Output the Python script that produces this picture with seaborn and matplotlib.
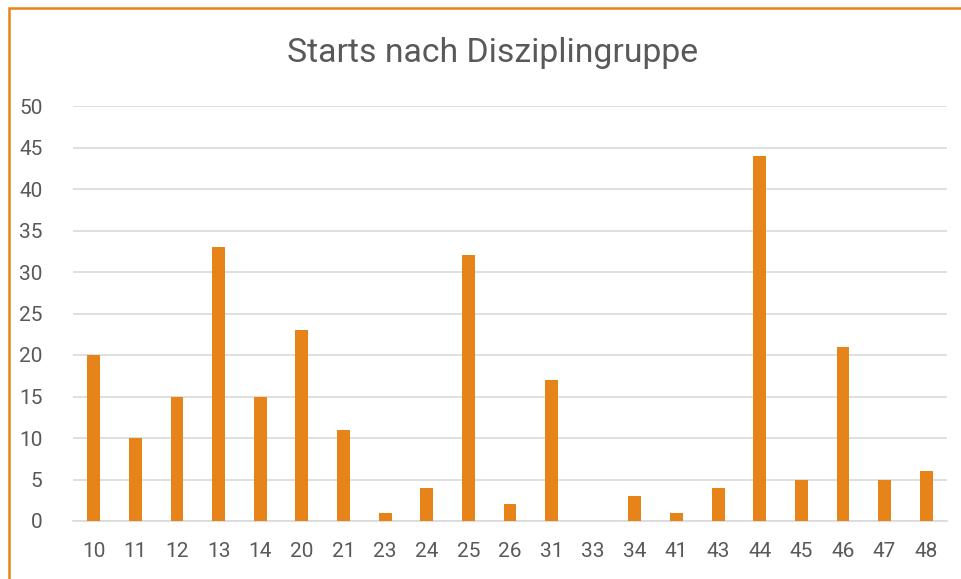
import pandas as pd
import matplotlib.pyplot as plt
import seaborn as sns
from matplotlib.patches import Rectangle

# data
gruppen = ["10", "11", "12", "13", "14", "20", "21", "23", "24", "25", "26",
           "31", "33", "34", "41", "43", "44", "45", "46", "47", "48"]
starts = [20, 10, 15, 33, 15, 23, 11, 1, 4, 32, 2,
          17, 0, 3, 1, 4, 44, 5, 21, 5, 6]
y_ticks = [0, 5, 10, 15, 20, 25, 30, 35, 40, 45, 50]

df = pd.DataFrame({"gruppe": gruppen, "starts": starts})

sns.set_theme(style="white")
plt.rcParams['font.family'] = ['Roboto', 'DejaVu Sans']

orange = "#E6841A"
grey_text = "#595959"

fig = plt.figure(figsize=(9.61, 5.79), dpi=100)
ax = fig.add_axes([73/961, 1 - 521/579, (947-73)/961, (521-106)/579])

sns.barplot(data=df, x="gruppe", y="starts", color=orange, width=0.31,
            saturation=1, linewidth=0, ax=ax, zorder=3)

ax.set_ylim(0, 50)
ax.set_yticks(y_ticks)
ax.set_xlim(-0.5, len(gruppen) - 0.5)
ax.yaxis.grid(True, color="#D9D9D9", linewidth=1.2, zorder=0)
ax.set_axisbelow(True)
for s in ["top", "right", "left"]:
    ax.spines[s].set_visible(False)
ax.spines["bottom"].set_color("#D9D9D9")
ax.spines["bottom"].set_linewidth(1.2)
ax.tick_params(axis="both", colors=grey_text, labelsize=15, length=0)
ax.tick_params(axis="y", pad=22)
ax.tick_params(axis="x", pad=15)
ax.set_xlabel("")
ax.set_ylabel("")

fig.text(493/961, 1 - 53/579, "Starts nach Disziplingruppe", ha="center", va="center",
         fontsize=24.3, color=grey_text)

# orange chart border (cropped on the right and bottom)
fig.patches.append(Rectangle((8.5/961, -0.05), 1.1, 1 - 7.5/579 + 0.05,
                             transform=fig.transFigure, fill=False,
                             edgecolor=orange, linewidth=1.8))

fig.savefig("out.png", dpi=100)
